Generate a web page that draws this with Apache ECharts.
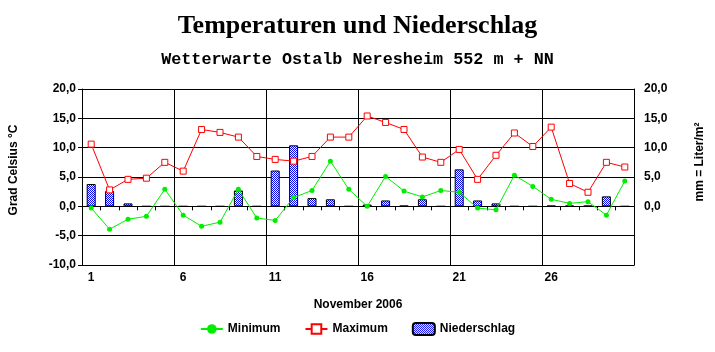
<!DOCTYPE html>
<html>
<head>
<meta charset="utf-8">
<script src="https://cdn.jsdelivr.net/npm/echarts@6/dist/echarts.min.js"></script>
<style>
  html, body { margin: 0; padding: 0; background: #fff; }
  #main { width: 715px; height: 352px; }
</style>
</head>
<body>
<div id="main"></div>
<script>
// Tage im November 2006
const days = [];
for (let d = 1; d <= 30; d++) days.push(String(d));

// Tiefsttemperatur (Grad Celsius)
const minimum = [-0.3, -3.9, -2.2, -1.7, 2.9, -1.5, -3.4, -2.7, 2.9, -2.0,
                 -2.4, 1.5, 2.7, 7.7, 2.9, 0.0, 5.1, 2.6, 1.6, 2.7,
                 2.4, -0.3, -0.6, 5.3, 3.4, 1.2, 0.5, 0.8, -1.5, 4.3];
// Hoechsttemperatur (Grad Celsius)
const maximum = [10.6, 2.8, 4.6, 4.8, 7.5, 6.0, 13.1, 12.6, 11.8, 8.5,
                 8.0, 7.7, 8.5, 11.8, 11.8, 15.4, 14.3, 13.1, 8.4, 7.5,
                 9.7, 4.6, 8.7, 12.5, 10.2, 13.5, 3.9, 2.4, 7.5, 6.7];
// Niederschlag (mm)
const niederschlag = [3.8, 2.6, 0.5, 0, 0, 0, 0, 0, 2.7, 0,
                      6.1, 10.4, 1.4, 1.2, 0, 0.3, 1.0, 0.1, 1.2, 0,
                      6.3, 1.0, 0.5, 0, 0, 0.1, 0.1, 0.1, 1.7, 0];

const fmt = v => v.toFixed(1).replace('.', ',');

// gepunktetes Fuellmuster fuer die Balken
const pat = document.createElement('canvas');
pat.width = 2; pat.height = 2;
const pc = pat.getContext('2d');
pc.fillStyle = '#ffffff';
pc.fillRect(0, 0, 2, 2);
pc.fillStyle = '#0000ff';
pc.fillRect(0, 0, 1, 1);
pc.fillRect(1, 1, 1, 1);

const bold = { fontFamily: 'Liberation Sans, Arial', fontWeight: 'bold', fontSize: 12, color: '#000' };

var myChart = echarts.init(document.getElementById('main'), null, { renderer: 'canvas' });

var option = {
  backgroundColor: '#fff',
  animation: false,
  title: [
    {
      text: 'Temperaturen und Niederschlag',
      left: 'center', top: 8,
      textStyle: { fontFamily: 'Liberation Serif, Times New Roman', fontWeight: 'bold', fontSize: 26, color: '#000' }
    },
    {
      text: 'Wetterwarte Ostalb Neresheim 552 m + NN',
      left: 'center', top: 46,
      textStyle: { fontFamily: 'Liberation Mono, Courier New', fontWeight: 'bold', fontSize: 16.8, color: '#000' }
    }
  ],
  legend: {
    bottom: 11,
    left: 'center',
    itemWidth: 22,
    itemHeight: 12,
    itemGap: 24,
    textStyle: bold,
    data: ['Minimum', 'Maximum', 'Niederschlag']
  },
  grid: { left: 82, right: 81, top: 89, bottom: 87 },
  xAxis: [
    {
      type: 'category',
      data: days,
      position: 'bottom',
      boundaryGap: true,
      name: 'November 2006',
      nameLocation: 'middle',
      nameGap: 34,
      nameTextStyle: bold,
      axisLine: { onZero: false, lineStyle: { color: '#000', width: 1 } },
      axisTick: { show: false },
      axisLabel: Object.assign({ interval: 4, margin: 7 }, bold),
      splitLine: { show: true, interval: 4, lineStyle: { color: '#000', width: 1 } }
    },
    {
      type: 'category',
      data: days,
      position: 'top',
      boundaryGap: true,
      axisLine: { onZero: true, onZeroAxisIndex: 0, lineStyle: { color: '#000', width: 1 } },
      axisTick: { show: true, interval: 0, inside: true, length: 4, lineStyle: { color: '#000' } },
      axisLabel: { show: false },
      splitLine: { show: false }
    }
  ],
  yAxis: [
    {
      type: 'value',
      min: -10, max: 20, interval: 5,
      name: 'Grad Celsius °C',
      nameLocation: 'middle',
      nameGap: 62,
      nameTextStyle: Object.assign({ padding: [0, 0, 0, 14] }, bold),
      axisLine: { show: true, lineStyle: { color: '#000', width: 1 } },
      axisTick: { show: true, length: 4, lineStyle: { color: '#000' } },
      axisLabel: Object.assign({ margin: 6, formatter: fmt }, bold),
      splitLine: { show: true, lineStyle: { color: '#000', width: 1 } }
    },
    {
      type: 'value',
      min: -10, max: 20, interval: 5,
      name: 'mm = Liter/m²',
      nameLocation: 'middle',
      nameGap: 60,
      nameTextStyle: Object.assign({ padding: [0, 0, 0, 30] }, bold),
      axisLine: { show: true, lineStyle: { color: '#000', width: 1 } },
      axisTick: { show: false },
      axisLabel: Object.assign({ margin: 10, formatter: v => (v < 0 ? '' : fmt(v)) }, bold),
      splitLine: { show: false }
    }
  ],
  series: [
    {
      name: 'Niederschlag',
      type: 'bar',
      xAxisIndex: 0,
      yAxisIndex: 1,
      data: niederschlag,
      barWidth: 9,
      z: 1,
      itemStyle: { color: { image: pat, repeat: 'repeat' }, borderColor: '#000', borderWidth: 1 }
    },
    {
      name: 'Maximum',
      type: 'line',
      xAxisIndex: 0,
      yAxisIndex: 0,
      data: maximum,
      symbol: 'rect',
      symbolSize: 6,
      z: 3,
      lineStyle: { color: '#ff0000', width: 1 },
      itemStyle: { color: '#ffffff', borderColor: '#ff0000', borderWidth: 1 }
    },
    {
      name: 'Minimum',
      type: 'line',
      xAxisIndex: 0,
      yAxisIndex: 0,
      data: minimum,
      symbol: 'circle',
      symbolSize: 5,
      z: 4,
      lineStyle: { color: '#00ee00', width: 1 },
      itemStyle: { color: '#00ee00', borderWidth: 0 }
    }
  ]
};

myChart.setOption(option);
</script>
</body>
</html>
